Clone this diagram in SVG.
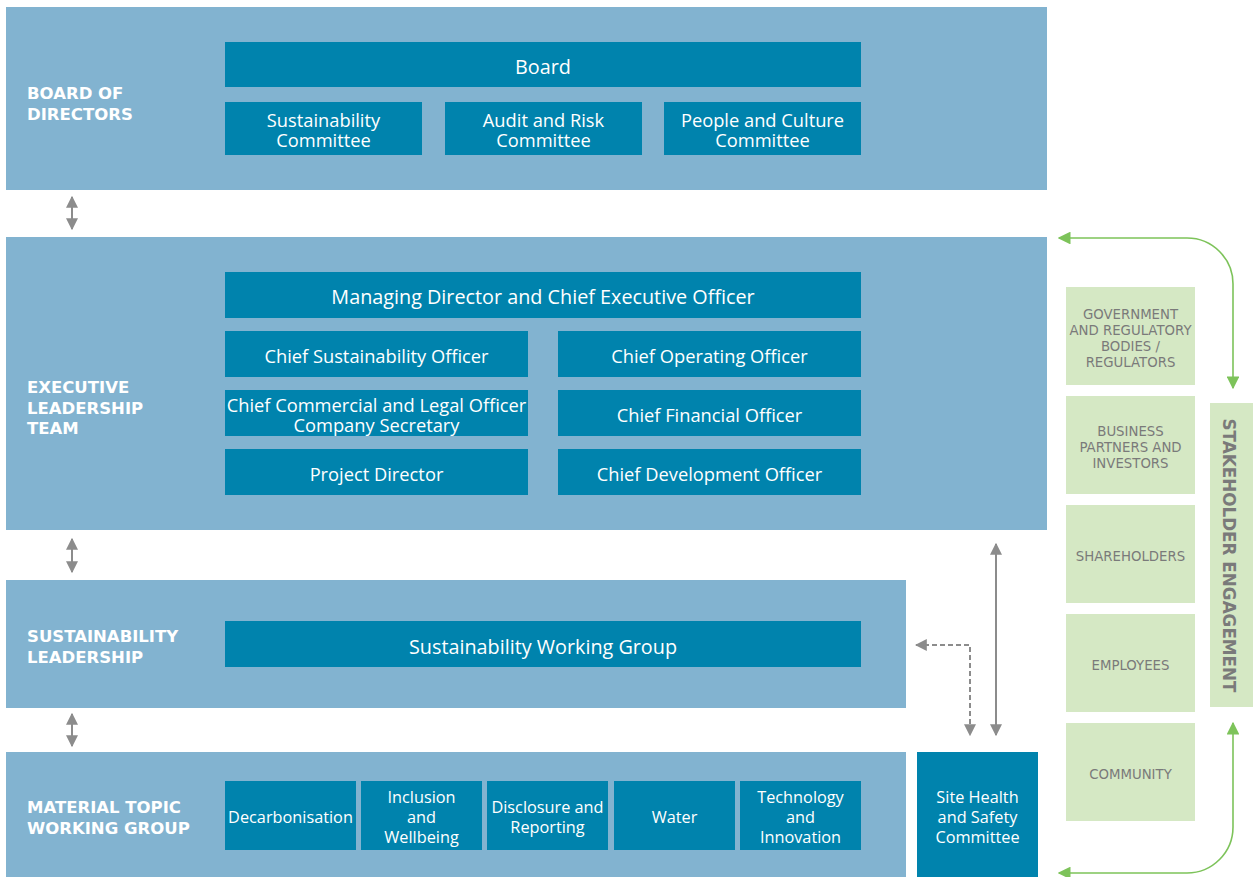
<svg xmlns="http://www.w3.org/2000/svg" width="1253" height="877" viewBox="0 0 1253 877">
<style>
.panel{fill:#82b3d0}
.box{fill:#0083ad}
.sh{fill:#d5e8c4}
.lbl{font-family:"DejaVu Sans","Liberation Sans",sans-serif;font-weight:700;font-size:16.5px;fill:#ffffff}
.t{font-family:"Open Sans","Liberation Sans",sans-serif;font-size:18.3px;fill:#ffffff;text-anchor:middle}
.tb{font-family:"Open Sans","Liberation Sans",sans-serif;font-size:19.8px;fill:#ffffff;text-anchor:middle}
.ts{font-family:"Open Sans","Liberation Sans",sans-serif;font-size:16.3px;fill:#ffffff;text-anchor:middle}
.g{font-family:"DejaVu Sans","Liberation Sans",sans-serif;font-size:13.3px;fill:#7a7a7a;text-anchor:middle}
.gray{stroke:#8c8c8c;stroke-width:2;fill:none}
.green{stroke:#7dc35a;stroke-width:1.6;fill:none}
</style>
<defs>
<marker id="ag" viewBox="0 0 10 10" refX="9" refY="5" markerWidth="6" markerHeight="6" orient="auto-start-reverse" markerUnits="strokeWidth"><path d="M0,0 L10,5 L0,10 z" fill="#8c8c8c"/></marker>
<marker id="agr" viewBox="0 0 10 10" refX="9" refY="5" markerWidth="8" markerHeight="8" orient="auto-start-reverse" markerUnits="strokeWidth"><path d="M0,0 L10,5 L0,10 z" fill="#7dc35a"/></marker>
</defs>
<rect width="1253" height="877" fill="#ffffff"/>

<g id="board-of-directors">
<rect class="panel" x="6" y="7" width="1041" height="183"/>
<text class="lbl" x="27" y="99">BOARD OF</text>
<text class="lbl" x="27" y="120">DIRECTORS</text>
</g>
<g id="board"><rect class="box" x="225" y="42" width="636" height="45"/><text class="tb" x="543" y="74">Board</text></g>
<g id="sustainability-committee"><rect class="box" x="225" y="102" width="197" height="53"/><text class="t" x="323.5" y="127">Sustainability</text><text class="t" x="323.5" y="147">Committee</text></g>
<g id="audit-risk-committee"><rect class="box" x="445" y="102" width="197" height="53"/><text class="t" x="543.5" y="127">Audit and Risk</text><text class="t" x="543.5" y="147">Committee</text></g>
<g id="people-culture-committee"><rect class="box" x="664" y="102" width="197" height="53"/><text class="t" x="762.5" y="127">People and Culture</text><text class="t" x="762.5" y="147">Committee</text></g>

<g id="executive-leadership-team">
<rect class="panel" x="6" y="237" width="1041" height="293"/>
<text class="lbl" x="27" y="393">EXECUTIVE</text>
<text class="lbl" x="27" y="414">LEADERSHIP</text>
<text class="lbl" x="27" y="434">TEAM</text>
</g>
<g id="md-ceo"><rect class="box" x="225" y="272" width="636" height="46"/><text class="tb" x="543" y="304">Managing Director and Chief Executive Officer</text></g>
<g id="cso"><rect class="box" x="225" y="331" width="303" height="46"/><text class="t" x="376.5" y="363">Chief Sustainability Officer</text></g>
<g id="coo"><rect class="box" x="558" y="331" width="303" height="46"/><text class="t" x="709.5" y="363">Chief Operating Officer</text></g>
<g id="cclo"><rect class="box" x="225" y="390" width="303" height="46"/><text class="t" x="376.5" y="412">Chief Commercial and Legal Officer</text><text class="t" x="376.5" y="432">Company Secretary</text></g>
<g id="cfo"><rect class="box" x="558" y="390" width="303" height="46"/><text class="t" x="709.5" y="422">Chief Financial Officer</text></g>
<g id="project-director"><rect class="box" x="225" y="449" width="303" height="46"/><text class="t" x="376.5" y="481">Project Director</text></g>
<g id="cdo"><rect class="box" x="558" y="449" width="303" height="46"/><text class="t" x="709.5" y="481">Chief Development Officer</text></g>

<g id="sustainability-leadership">
<rect class="panel" x="6" y="580" width="900" height="128"/>
<text class="lbl" x="27" y="642">SUSTAINABILITY</text>
<text class="lbl" x="27" y="663">LEADERSHIP</text>
</g>
<g id="swg"><rect class="box" x="225" y="621" width="636" height="46"/><text class="tb" x="543" y="654">Sustainability Working Group</text></g>

<g id="material-topic-working-group">
<rect class="panel" x="6" y="752" width="900" height="125"/>
<text class="lbl" x="27" y="813">MATERIAL TOPIC</text>
<text class="lbl" x="27" y="834">WORKING GROUP</text>
</g>
<g id="decarbonisation"><rect class="box" x="225" y="781" width="131" height="69"/><text class="ts" x="290.5" y="823">Decarbonisation</text></g>
<g id="inclusion"><rect class="box" x="361" y="781" width="121" height="69"/><text class="ts" x="421.5" y="803">Inclusion</text><text class="ts" x="421.5" y="823">and</text><text class="ts" x="421.5" y="843">Wellbeing</text></g>
<g id="disclosure"><rect class="box" x="487" y="781" width="121" height="69"/><text class="ts" x="547.5" y="813">Disclosure and</text><text class="ts" x="547.5" y="833">Reporting</text></g>
<g id="water"><rect class="box" x="614" y="781" width="121" height="69"/><text class="ts" x="674.5" y="823">Water</text></g>
<g id="technology"><rect class="box" x="740" y="781" width="121" height="69"/><text class="ts" x="800.5" y="803">Technology</text><text class="ts" x="800.5" y="823">and</text><text class="ts" x="800.5" y="843">Innovation</text></g>

<g id="site-health-safety"><rect class="box" x="917" y="752" width="121" height="125"/><text class="ts" x="977.5" y="803">Site Health</text><text class="ts" x="977.5" y="823">and Safety</text><text class="ts" x="977.5" y="843">Committee</text></g>

<g id="government"><rect class="sh" x="1066" y="287" width="129" height="98"/><text class="g" x="1130.5" y="319">GOVERNMENT</text><text class="g" x="1130.5" y="335">AND REGULATORY</text><text class="g" x="1130.5" y="351">BODIES /</text><text class="g" x="1130.5" y="367">REGULATORS</text></g>
<g id="business-partners"><rect class="sh" x="1066" y="396" width="129" height="98"/><text class="g" x="1130.5" y="436">BUSINESS</text><text class="g" x="1130.5" y="452">PARTNERS AND</text><text class="g" x="1130.5" y="468">INVESTORS</text></g>
<g id="shareholders"><rect class="sh" x="1066" y="505" width="129" height="98"/><text class="g" x="1130.5" y="561">SHAREHOLDERS</text></g>
<g id="employees"><rect class="sh" x="1066" y="614" width="129" height="98"/><text class="g" x="1130.5" y="670">EMPLOYEES</text></g>
<g id="community"><rect class="sh" x="1066" y="723" width="129" height="98"/><text class="g" x="1130.5" y="779">COMMUNITY</text></g>
<g id="stakeholder-engagement"><rect class="sh" x="1210" y="403" width="43" height="304"/><text transform="translate(1223 555.5) rotate(90)" font-family="'DejaVu Sans','Liberation Sans',sans-serif" font-size="16.8" font-weight="700" fill="#7a7a7a" text-anchor="middle">STAKEHOLDER ENGAGEMENT</text></g>

<g id="connectors">
<line class="gray" x1="72" y1="197" x2="72" y2="229" marker-start="url(#ag)" marker-end="url(#ag)"/>
<line class="gray" x1="72" y1="539" x2="72" y2="572" marker-start="url(#ag)" marker-end="url(#ag)"/>
<line class="gray" x1="72" y1="714" x2="72" y2="746" marker-start="url(#ag)" marker-end="url(#ag)"/>
<line class="gray" x1="996" y1="544" x2="996" y2="735" marker-start="url(#ag)" marker-end="url(#ag)"/>
<polyline class="gray" points="916,645 970,645 970,735" stroke-dasharray="5,3" marker-start="url(#ag)" marker-end="url(#ag)"/>
<path class="green" d="M1233,388 L1233,284 A46,46 0 0 0 1187,238 L1059,238" marker-start="url(#agr)" marker-end="url(#agr)"/>
<path class="green" d="M1233,723 L1233,827 A46,46 0 0 1 1187,873 L1059,873" marker-start="url(#agr)" marker-end="url(#agr)"/>
</g>
</svg>
